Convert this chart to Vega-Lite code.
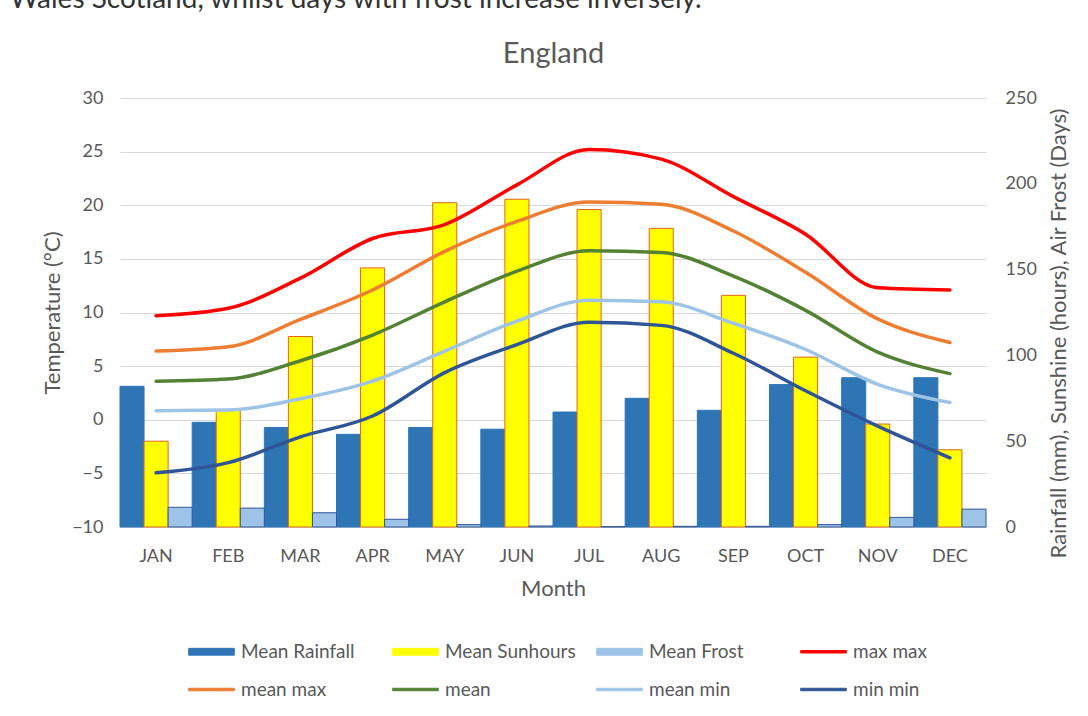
{
  "$schema": "https://vega.github.io/schema/vega-lite/v6.json",
  "autosize": {"type": "none"},
  "width": 866,
  "height": 429,
  "padding": {"left": 120, "top": 98, "right": 102, "bottom": 189},
  "background": "#ffffff",
  "config": {
    "font": "Lato",
    "view": {"stroke": null},
    "axis": {"labelColor": "#595959", "titleColor": "#595959", "titleFontWeight": "normal", "labelFont": "Lato", "titleFont": "Lato"}
  },
  "title": {"text": "Wales Scotland, whilst days with frost increase inversely.", "fontSize": 28, "fontWeight": "normal", "color": "#333333", "font": "Lato", "anchor": "start", "frame": "bounds", "dx": -32, "offset": 25},
  "datasets": {
    "bars": [
      {"month": "JAN", "series": "Mean Rainfall", "value": 82},
      {"month": "FEB", "series": "Mean Rainfall", "value": 61},
      {"month": "MAR", "series": "Mean Rainfall", "value": 58},
      {"month": "APR", "series": "Mean Rainfall", "value": 54},
      {"month": "MAY", "series": "Mean Rainfall", "value": 58},
      {"month": "JUN", "series": "Mean Rainfall", "value": 57},
      {"month": "JUL", "series": "Mean Rainfall", "value": 67},
      {"month": "AUG", "series": "Mean Rainfall", "value": 75},
      {"month": "SEP", "series": "Mean Rainfall", "value": 68},
      {"month": "OCT", "series": "Mean Rainfall", "value": 83},
      {"month": "NOV", "series": "Mean Rainfall", "value": 87},
      {"month": "DEC", "series": "Mean Rainfall", "value": 87},
      {"month": "JAN", "series": "Mean Sunhours", "value": 50},
      {"month": "FEB", "series": "Mean Sunhours", "value": 68},
      {"month": "MAR", "series": "Mean Sunhours", "value": 111},
      {"month": "APR", "series": "Mean Sunhours", "value": 151},
      {"month": "MAY", "series": "Mean Sunhours", "value": 189},
      {"month": "JUN", "series": "Mean Sunhours", "value": 191},
      {"month": "JUL", "series": "Mean Sunhours", "value": 185},
      {"month": "AUG", "series": "Mean Sunhours", "value": 174},
      {"month": "SEP", "series": "Mean Sunhours", "value": 135},
      {"month": "OCT", "series": "Mean Sunhours", "value": 99},
      {"month": "NOV", "series": "Mean Sunhours", "value": 60},
      {"month": "DEC", "series": "Mean Sunhours", "value": 45},
      {"month": "JAN", "series": "Mean Frost", "value": 11.5},
      {"month": "FEB", "series": "Mean Frost", "value": 11},
      {"month": "MAR", "series": "Mean Frost", "value": 8.3},
      {"month": "APR", "series": "Mean Frost", "value": 4.5},
      {"month": "MAY", "series": "Mean Frost", "value": 1.4},
      {"month": "JUN", "series": "Mean Frost", "value": 0.6},
      {"month": "JUL", "series": "Mean Frost", "value": 0.2},
      {"month": "AUG", "series": "Mean Frost", "value": 0.4},
      {"month": "SEP", "series": "Mean Frost", "value": 0.4},
      {"month": "OCT", "series": "Mean Frost", "value": 1.4},
      {"month": "NOV", "series": "Mean Frost", "value": 5.6},
      {"month": "DEC", "series": "Mean Frost", "value": 10.4}
    ],
    "lines": [
      {"month": "JAN", "series": "max max", "temp": 9.7},
      {"month": "FEB", "series": "max max", "temp": 10.4},
      {"month": "MAR", "series": "max max", "temp": 13.2},
      {"month": "APR", "series": "max max", "temp": 16.9},
      {"month": "MAY", "series": "max max", "temp": 18.2},
      {"month": "JUN", "series": "max max", "temp": 21.9},
      {"month": "JUL", "series": "max max", "temp": 25.2},
      {"month": "AUG", "series": "max max", "temp": 24.3},
      {"month": "SEP", "series": "max max", "temp": 20.8},
      {"month": "OCT", "series": "max max", "temp": 17.3},
      {"month": "NOV", "series": "max max", "temp": 12.3},
      {"month": "DEC", "series": "max max", "temp": 12.1},
      {"month": "JAN", "series": "mean max", "temp": 6.4},
      {"month": "FEB", "series": "mean max", "temp": 6.8},
      {"month": "MAR", "series": "mean max", "temp": 9.35},
      {"month": "APR", "series": "mean max", "temp": 12.1},
      {"month": "MAY", "series": "mean max", "temp": 15.7},
      {"month": "JUN", "series": "mean max", "temp": 18.5},
      {"month": "JUL", "series": "mean max", "temp": 20.3},
      {"month": "AUG", "series": "mean max", "temp": 20.1},
      {"month": "SEP", "series": "mean max", "temp": 17.6},
      {"month": "OCT", "series": "mean max", "temp": 13.75},
      {"month": "NOV", "series": "mean max", "temp": 9.4},
      {"month": "DEC", "series": "mean max", "temp": 7.2},
      {"month": "JAN", "series": "mean", "temp": 3.6},
      {"month": "FEB", "series": "mean", "temp": 3.8},
      {"month": "MAR", "series": "mean", "temp": 5.5},
      {"month": "APR", "series": "mean", "temp": 7.9},
      {"month": "MAY", "series": "mean", "temp": 11.0},
      {"month": "JUN", "series": "mean", "temp": 13.85},
      {"month": "JUL", "series": "mean", "temp": 15.75},
      {"month": "AUG", "series": "mean", "temp": 15.6},
      {"month": "SEP", "series": "mean", "temp": 13.4},
      {"month": "OCT", "series": "mean", "temp": 10.2},
      {"month": "NOV", "series": "mean", "temp": 6.3},
      {"month": "DEC", "series": "mean", "temp": 4.3},
      {"month": "JAN", "series": "mean min", "temp": 0.85},
      {"month": "FEB", "series": "mean min", "temp": 0.9},
      {"month": "MAR", "series": "mean min", "temp": 1.95},
      {"month": "APR", "series": "mean min", "temp": 3.6},
      {"month": "MAY", "series": "mean min", "temp": 6.4},
      {"month": "JUN", "series": "mean min", "temp": 9.2},
      {"month": "JUL", "series": "mean min", "temp": 11.15},
      {"month": "AUG", "series": "mean min", "temp": 11.0},
      {"month": "SEP", "series": "mean min", "temp": 9.0},
      {"month": "OCT", "series": "mean min", "temp": 6.55},
      {"month": "NOV", "series": "mean min", "temp": 3.3},
      {"month": "DEC", "series": "mean min", "temp": 1.6},
      {"month": "JAN", "series": "min min", "temp": -4.95},
      {"month": "FEB", "series": "min min", "temp": -4.0},
      {"month": "MAR", "series": "min min", "temp": -1.6},
      {"month": "APR", "series": "min min", "temp": 0.35},
      {"month": "MAY", "series": "min min", "temp": 4.4},
      {"month": "JUN", "series": "min min", "temp": 7.0},
      {"month": "JUL", "series": "min min", "temp": 9.1},
      {"month": "AUG", "series": "min min", "temp": 8.8},
      {"month": "SEP", "series": "min min", "temp": 6.2},
      {"month": "OCT", "series": "min min", "temp": 2.7},
      {"month": "NOV", "series": "min min", "temp": -0.6},
      {"month": "DEC", "series": "min min", "temp": -3.55}
    ]
  },
  "layer": [
    {
      "data": {"name": "bars"},
      "mark": {"type": "bar", "strokeWidth": 1},
      "encoding": {
        "x": {
          "field": "month", "type": "ordinal",
          "sort": ["JAN","FEB","MAR","APR","MAY","JUN","JUL","AUG","SEP","OCT","NOV","DEC"],
          "scale": {"paddingInner": 0, "paddingOuter": 0},
          "axis": {"orient": "top", "title": "England", "titleFontSize": 29, "titlePadding": 30, "labels": false, "ticks": false, "domain": false, "grid": false}
        },
        "xOffset": {"field": "series", "type": "nominal", "sort": ["Mean Rainfall","Mean Sunhours","Mean Frost"], "scale": {"paddingInner": 0, "paddingOuter": 0}},
        "y": {"field": "value", "type": "quantitative",
          "scale": {"domain": [0, 250], "nice": false},
          "axis": {"orient": "right", "values": [0,50,100,150,200,250], "grid": false, "domain": false, "ticks": false, "labelFontSize": 18, "labelPadding": 19, "title": "Rainfall (mm), Sunshine (hours), Air Frost (Days)", "titleFontSize": 22, "titleAngle": 270, "titlePadding": 34, "titleY": 235}},
        "color": {"field": "series", "type": "nominal"},
        "stroke": {"field": "series", "type": "nominal", "legend": null,
          "scale": {"domain": ["Mean Rainfall","Mean Sunhours","Mean Frost"], "range": ["#2E75B6", "#E2661C", "#2F5597"]}}
      }
    },
    {
      "data": {"name": "lines"},
      "mark": {"type": "line", "strokeWidth": 3.5, "interpolate": "monotone", "strokeCap": "round"},
      "encoding": {
        "x": {
          "field": "month", "type": "ordinal",
          "sort": ["JAN","FEB","MAR","APR","MAY","JUN","JUL","AUG","SEP","OCT","NOV","DEC"],
          "scale": {"paddingInner": 0, "paddingOuter": 0},
          "axis": {"orient": "bottom", "title": "Month", "titleFontSize": 22, "titlePadding": 13, "labelFontSize": 18, "labelAngle": 0, "labelPadding": 20, "ticks": false, "domain": true, "domainColor": "#D9D9D9", "domainWidth": 1, "grid": false}
        },
        "y": {"field": "temp", "type": "quantitative",
          "scale": {"domain": [-10, 30], "nice": false},
          "axis": {"orient": "left", "values": [-10,-5,0,5,10,15,20,25,30], "grid": true, "gridColor": "#D9D9D9", "gridWidth": 1, "domain": false, "ticks": false, "labelFontSize": 18, "labelPadding": 17, "title": "Temperature (°C)", "titleFontSize": 22, "titlePadding": 7}},
        "color": {"field": "series", "type": "nominal",
          "scale": {
            "domain": ["Mean Rainfall","Mean Sunhours","Mean Frost","max max","mean max","mean","mean min","min min"],
            "range": ["#2E75B6","#FFFF00","#9DC3E6","#FF0000","#ED7D31","#548235","#9DC3E6","#2F5597"]
          },
          "legend": {
            "title": null, "orient": "none", "direction": "horizontal", "legendX": 72, "legendY": 534, "columns": 4, "gridAlign": "all",
            "columnPadding": 18, "rowPadding": 8, "padding": 0,
            "labelFont": "Lato", "labelFontSize": 19, "labelColor": "#595959", "labelOffset": 10, "labelLimit": 300,
            "symbolSize": 1444, "symbolStrokeWidth": 1,
            "encode": {
              "symbols": {
                "update": {
                  "shape": {"signal": "indexof(['Mean Rainfall','Mean Sunhours','Mean Frost'], datum.value) >= 0 ? 'M-1.2,-0.18H1.2V0.18H-1.2Z' : 'M-1.2,-0.065H1.2V0.065H-1.2Z'"},
                  "fill": {"signal": "scale('color', datum.value)"},
                  "stroke": {"signal": "datum.value === 'Mean Sunhours' ? '#E2661C' : datum.value === 'Mean Frost' ? '#2F5597' : scale('color', datum.value)"},
                  "strokeWidth": {"value": 1},
                  "opacity": {"value": 1},
                  "fillOpacity": {"value": 1}
                }
              }
            }
          }
        }
      }
    }
  ],
  "resolve": {"scale": {"y": "independent"}, "axis": {"y": "independent", "x": "independent"}}
}
